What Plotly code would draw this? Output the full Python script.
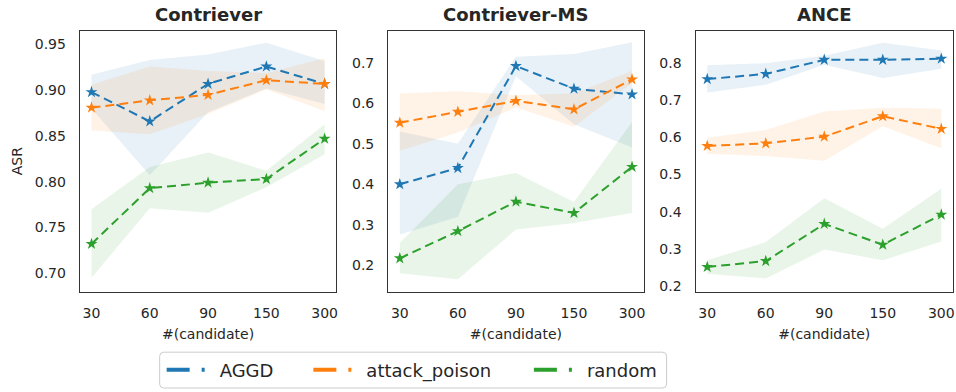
import plotly.graph_objects as go

# candidate pool sizes (categorical x axis)
candidates = ["30", "60", "90", "150", "300"]
series_names = ["AGGD", "attack_poison", "random"]
panel_titles = ["Contriever", "Contriever-MS", "ANCE"]

# Contriever
contriever_mean = {
    "AGGD": [0.898, 0.866, 0.907, 0.926, 0.907],
    "attack_poison": [0.881, 0.889, 0.895, 0.911, 0.907],
    "random": [0.732, 0.793, 0.799, 0.803, 0.847],
}
contriever_upper = {
    "AGGD": [0.917, 0.933, 0.939, 0.952, 0.932],
    "attack_poison": [0.906, 0.926, 0.921, 0.919, 0.935],
    "random": [0.770, 0.816, 0.832, 0.812, 0.863],
}
contriever_lower = {
    "AGGD": [0.880, 0.807, 0.876, 0.902, 0.885],
    "attack_poison": [0.856, 0.852, 0.874, 0.901, 0.877],
    "random": [0.695, 0.771, 0.766, 0.794, 0.830],
}

# Contriever-MS
contriever_ms_mean = {
    "AGGD": [0.400, 0.440, 0.692, 0.636, 0.622],
    "attack_poison": [0.552, 0.579, 0.606, 0.585, 0.659],
    "random": [0.217, 0.284, 0.357, 0.329, 0.443],
}
contriever_ms_upper = {
    "AGGD": [0.530, 0.500, 0.715, 0.722, 0.751],
    "attack_poison": [0.624, 0.630, 0.620, 0.625, 0.680],
    "random": [0.255, 0.400, 0.428, 0.356, 0.554],
}
contriever_ms_lower = {
    "AGGD": [0.276, 0.319, 0.667, 0.548, 0.491],
    "attack_poison": [0.483, 0.528, 0.590, 0.542, 0.650],
    "random": [0.180, 0.165, 0.288, 0.304, 0.329],
}

# ANCE
ance_mean = {
    "AGGD": [0.757, 0.771, 0.809, 0.809, 0.812],
    "attack_poison": [0.577, 0.584, 0.602, 0.657, 0.623],
    "random": [0.251, 0.267, 0.367, 0.311, 0.392],
}
ance_upper = {
    "AGGD": [0.794, 0.800, 0.820, 0.855, 0.834],
    "attack_poison": [0.599, 0.620, 0.670, 0.680, 0.677],
    "random": [0.269, 0.318, 0.436, 0.354, 0.462],
}
ance_lower = {
    "AGGD": [0.721, 0.742, 0.796, 0.760, 0.785],
    "attack_poison": [0.556, 0.550, 0.537, 0.630, 0.571],
    "random": [0.233, 0.220, 0.298, 0.269, 0.320],
}

panels = [
    (contriever_mean, contriever_upper, contriever_lower, [0.68, 0.965], ".2f", [0.70, 0.75, 0.80, 0.85, 0.90, 0.95]),
    (contriever_ms_mean, contriever_ms_upper, contriever_ms_lower, [0.135, 0.779], ".1f", [0.2, 0.3, 0.4, 0.5, 0.6, 0.7]),
    (ance_mean, ance_upper, ance_lower, [0.185, 0.887], ".1f", [0.2, 0.3, 0.4, 0.5, 0.6, 0.7, 0.8]),
]

colors = {"AGGD": "#1f77b4", "attack_poison": "#ff7f0e", "random": "#2ca02c"}
fills = {"AGGD": "rgba(31,119,180,0.1)", "attack_poison": "rgba(255,127,14,0.1)", "random": "rgba(44,160,44,0.1)"}

W, H = 956, 392
x_domains = [(80 / W, 337 / W), (389 / W, 645 / W), (697 / W, 955 / W)]
y_domain = (1 - 293 / H, 1 - 31 / H)
text_color = "#262626"
font_family = "DejaVu Sans"

fig = go.Figure()

for i, (mean, upper, lower, yrange, fmt, yticks) in enumerate(panels):
    xa = "x" if i == 0 else f"x{i + 1}"
    ya = "y" if i == 0 else f"y{i + 1}"
    for name in series_names:
        fig.add_trace(go.Scatter(
            x=candidates + candidates[::-1],
            y=upper[name] + lower[name][::-1],
            fill="toself", fillcolor=fills[name],
            line=dict(width=0), mode="lines", hoverinfo="skip",
            showlegend=False, xaxis=xa, yaxis=ya,
        ))
    for name in series_names:
        fig.add_trace(go.Scatter(
            x=candidates, y=mean[name], mode="lines+markers", name=name,
            line=dict(color=colors[name], width=2, dash="9px,5px"),
            marker=dict(symbol="star", size=9, color=colors[name]),
            showlegend=False, xaxis=xa, yaxis=ya,
        ))
    axis_common = dict(
        showline=True, mirror=True, linecolor="#333333", linewidth=1.25,
        showgrid=False, zeroline=False,
        tickfont=dict(family=font_family, size=14, color=text_color),
    )
    fig.layout[f"xaxis{'' if i == 0 else i + 1}"] = dict(
        axis_common, domain=x_domains[i], anchor=ya, type="category",
        range=[-0.2, 4.2], ticks="", ticklabelstandoff=9,
        title=dict(text="#(candidate)", font=dict(family=font_family, size=14, color=text_color), standoff=8),
    )
    fig.layout[f"yaxis{'' if i == 0 else i + 1}"] = dict(
        axis_common, domain=y_domain, anchor=xa, range=yrange,
        tickvals=yticks, tickformat=fmt, ticks="", ticklabelstandoff=10,
    )
    fig.add_annotation(
        text=f"<b>{panel_titles[i]}</b>", x=(x_domains[i][0] + x_domains[i][1]) / 2,
        y=1 - 15 / H, xref="paper", yref="paper", xanchor="center", yanchor="middle",
        showarrow=False, font=dict(family=font_family, size=18, color=text_color),
    )

fig.layout.yaxis.title = dict(text="ASR", font=dict(family=font_family, size=14, color=text_color), standoff=8)

# legend entries: one single-item legend per series, laid out in a row
legend_x = [162, 309, 530]
for k, name in enumerate(series_names):
    lg = "legend" if k == 0 else f"legend{k + 1}"
    fig.add_trace(go.Scatter(
        x=[None], y=[None], mode="lines", name=name, legend=lg,
        line=dict(color=colors[name], width=4, dash="23px,12px,3px,30px"),
        showlegend=True, xaxis="x", yaxis="y",
    ))
    fig.layout[lg] = dict(
        orientation="h", x=legend_x[k] / W, y=1 - 372 / H, xanchor="left", yanchor="middle",
        borderwidth=0, bgcolor="rgba(0,0,0,0)",
        font=dict(family=font_family, size=18, color=text_color),
        itemwidth=48,
    )

# rounded legend frame
fx0, fx1, fy0, fy1 = 160 / W, 668 / W, 1 - 390 / H, 1 - 354 / H
rx, ry = 4 / W, 4 / H
frame_path = (
    f"M{fx0 + rx},{fy0} L{fx1 - rx},{fy0} Q{fx1},{fy0} {fx1},{fy0 + ry} "
    f"L{fx1},{fy1 - ry} Q{fx1},{fy1} {fx1 - rx},{fy1} "
    f"L{fx0 + rx},{fy1} Q{fx0},{fy1} {fx0},{fy1 - ry} "
    f"L{fx0},{fy0 + ry} Q{fx0},{fy0} {fx0 + rx},{fy0} Z"
)
fig.add_shape(
    type="path", path=frame_path, xref="paper", yref="paper",
    line=dict(color="#cccccc", width=1), fillcolor="rgba(0,0,0,0)", layer="below",
)

fig.update_layout(
    width=W, height=H, margin=dict(l=0, r=0, t=0, b=0),
    paper_bgcolor="white", plot_bgcolor="white",
    font=dict(family=font_family, color=text_color),
)

fig.write_html("out.html")
